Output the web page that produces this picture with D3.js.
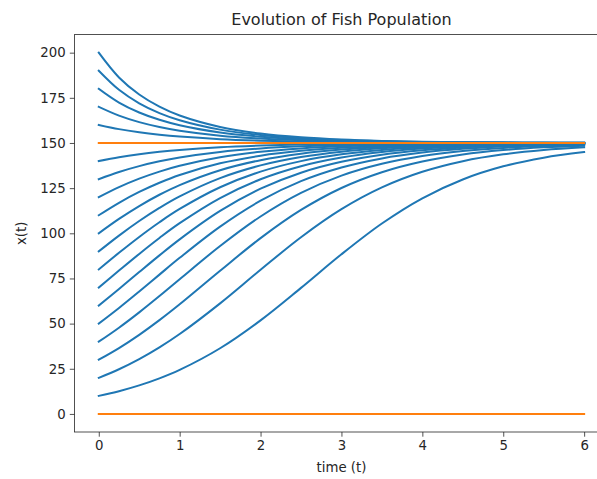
<!DOCTYPE html>
<html>
<head>
<meta charset="utf-8">
<script src="https://cdn.jsdelivr.net/npm/d3@7"></script>
<style>
  html, body { margin: 0; padding: 0; background: #fff; }
  svg { display: block; font-family: "DejaVu Sans", sans-serif; }
</style>
</head>
<body>
<svg id="chart" width="597" height="479"></svg>
<script>
// Sample times (t) shared by every trajectory
const times = [0, 0.25, 0.5, 0.75, 1, 1.5, 2, 2.5, 3, 3.5, 4, 4.5, 5, 5.5, 6];

// Population trajectories x(t), one per starting population
const pop10  = [10, 12.60, 15.80, 19.70, 24.39, 36.37, 51.82, 69.79, 88.39, 105.43, 119.39, 129.81, 137.07, 141.88, 144.97];
const pop20  = [20, 24.74, 30.35, 36.85, 44.23, 61.22, 79.80, 97.81, 113.33, 125.39, 134.04, 139.90, 143.71, 146.12, 147.62];
const pop30  = [30, 36.45, 43.78, 51.91, 60.69, 79.26, 97.32, 112.92, 125.09, 133.83, 139.76, 143.62, 146.06, 147.59, 148.53];
const pop40  = [40, 47.74, 56.22, 65.25, 74.57, 92.96, 109.31, 122.38, 131.94, 138.50, 142.81, 145.55, 147.27, 148.33, 148.98];
const pop50  = [50, 58.65, 67.78, 77.13, 86.42, 103.72, 118.05, 128.85, 136.42, 141.46, 144.70, 146.74, 148.01, 148.78, 149.26];
const pop60  = [60, 69.18, 78.54, 87.79, 96.66, 112.39, 124.69, 133.56, 139.58, 143.50, 145.99, 147.54, 148.50, 149.09, 149.44];
const pop70  = [70, 79.36, 88.59, 97.41, 105.60, 119.52, 129.91, 137.14, 141.92, 145.00, 146.92, 148.12, 148.85, 149.30, 149.58];
const pop80  = [80, 89.21, 97.99, 106.13, 113.47, 125.50, 134.12, 139.95, 143.74, 146.14, 147.63, 148.56, 149.12, 149.47, 149.68];
const pop90  = [90, 98.74, 106.81, 114.08, 120.46, 130.58, 137.59, 142.22, 145.18, 147.04, 148.19, 148.90, 149.33, 149.59, 149.75];
const pop100 = [100, 107.96, 115.09, 121.34, 126.70, 134.94, 140.49, 144.09, 146.36, 147.77, 148.64, 149.17, 149.50, 149.69, 149.81];
const pop110 = [110, 116.90, 122.89, 128.01, 132.30, 138.74, 142.96, 145.65, 147.33, 148.37, 149.01, 149.40, 149.63, 149.78, 149.86];
const pop120 = [120, 125.55, 130.25, 134.16, 137.37, 142.07, 145.09, 146.98, 148.16, 148.88, 149.32, 149.58, 149.75, 149.85, 149.91];
const pop130 = [130, 133.95, 137.20, 139.84, 141.97, 145.02, 146.94, 148.13, 148.86, 149.31, 149.58, 149.74, 149.84, 149.91, 149.94];
const pop140 = [140, 142.10, 143.77, 145.10, 146.16, 147.65, 148.56, 149.13, 149.47, 149.68, 149.80, 149.88, 149.93, 149.96, 149.97];
const pop160 = [160, 157.67, 155.91, 154.56, 153.53, 152.12, 151.28, 150.77, 150.47, 150.28, 150.17, 150.10, 150.06, 150.04, 150.02];
const pop170 = [170, 165.13, 161.53, 158.83, 156.79, 154.04, 152.43, 151.46, 150.88, 150.53, 150.32, 150.20, 150.12, 150.07, 150.04];
const pop180 = [180, 172.37, 166.87, 162.82, 159.80, 155.79, 153.46, 152.08, 151.26, 150.76, 150.46, 150.28, 150.17, 150.10, 150.06];
const pop190 = [190, 179.42, 171.96, 166.56, 162.59, 157.39, 154.40, 152.64, 151.59, 150.96, 150.58, 150.35, 150.21, 150.13, 150.08];
const pop200 = [200, 186.27, 176.81, 170.09, 165.19, 158.86, 155.25, 153.14, 151.89, 151.14, 150.69, 150.42, 150.25, 150.15, 150.09];

const trajectories = [pop10, pop20, pop30, pop40, pop50, pop60, pop70, pop80, pop90, pop100,
                      pop110, pop120, pop130, pop140, pop160, pop170, pop180, pop190, pop200];

// Equilibrium populations, held constant over the time span
const equilibria = [150, 0];
const equilibriumTimes = [0, 6];

// Tick values
const xTicks = [0, 1, 2, 3, 4, 5, 6];
const yTicks = [0, 25, 50, 75, 100, 125, 150, 175, 200];

const svg = d3.select("#chart");
const blue = "#1f77b4", orange = "#ff7f0e", ink = "#262626";

const plotLeft = 74.5, plotTop = 34.6, plotBottom = 432, plotRight = 608.4;
const x = d3.scaleLinear().domain([-0.3, 6.3]).range([plotLeft, plotRight]);
const y = d3.scaleLinear().domain([-10, 210]).range([plotBottom, plotTop]);

svg.append("defs").append("clipPath").attr("id", "plot-clip")
  .append("rect").attr("x", plotLeft).attr("y", plotTop)
  .attr("width", plotRight - plotLeft).attr("height", plotBottom - plotTop);

const plot = svg.append("g").attr("clip-path", "url(#plot-clip)");

// Smooth spline through the sampled points
const line = d3.line()
  .x((d, i) => x(times[i]))
  .y(d => y(d))
  .curve(d3.curveCatmullRom.alpha(0.5));

plot.selectAll("path.traj")
  .data(trajectories)
  .join("path")
  .attr("class", "traj")
  .attr("d", line)
  .attr("fill", "none")
  .attr("stroke", blue)
  .attr("stroke-width", 2)
  .attr("stroke-linecap", "square");

plot.selectAll("path.eq")
  .data(equilibria)
  .join("path")
  .attr("class", "eq")
  .attr("d", v => d3.line()(equilibriumTimes.map(t => [x(t), y(v)])))
  .attr("fill", "none")
  .attr("stroke", orange)
  .attr("stroke-width", 2)
  .attr("stroke-linecap", "square");

// Axes
const xAxis = d3.axisBottom(x).tickValues(xTicks).tickFormat(d3.format("d"))
  .tickSize(4.7).tickPadding(4.2).tickSizeOuter(0);
const yAxis = d3.axisLeft(y).tickValues(yTicks).tickFormat(d3.format("d"))
  .tickSize(4.7).tickPadding(4.2).tickSizeOuter(0);

const gx = svg.append("g").attr("transform", `translate(0,${plotBottom})`).call(xAxis);
const gy = svg.append("g").attr("transform", `translate(${plotLeft},0)`).call(yAxis);

[gx, gy].forEach(g => {
  g.select(".domain").remove();
  g.selectAll(".tick line").attr("stroke", ink).attr("stroke-width", 0.8);
  g.selectAll(".tick text").attr("fill", ink)
    .style("font-family", "'DejaVu Sans', sans-serif").style("font-size", "13.3px");
});

// Frame
svg.append("rect")
  .attr("x", plotLeft).attr("y", plotTop)
  .attr("width", plotRight - plotLeft).attr("height", plotBottom - plotTop)
  .attr("fill", "none").attr("stroke", ink).attr("stroke-width", 0.8);

// Titles
svg.append("text")
  .attr("x", (plotLeft + plotRight) / 2).attr("y", 25)
  .attr("text-anchor", "middle")
  .attr("fill", ink)
  .style("font-size", "16px")
  .text("Evolution of Fish Population");

svg.append("text")
  .attr("x", (plotLeft + plotRight) / 2).attr("y", 472)
  .attr("text-anchor", "middle")
  .attr("fill", ink)
  .style("font-size", "13.3px")
  .text("time (t)");

svg.append("text")
  .attr("transform", `translate(26,${(plotTop + plotBottom) / 2}) rotate(-90)`)
  .attr("text-anchor", "middle")
  .attr("fill", ink)
  .style("font-size", "13.3px")
  .text("x(t)");
</script>
</body>
</html>
